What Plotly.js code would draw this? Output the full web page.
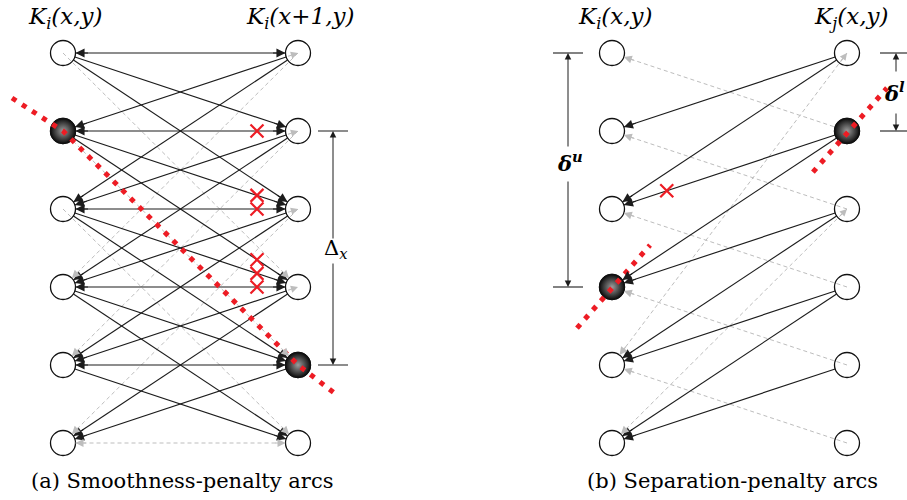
<!DOCTYPE html>
<html><head><meta charset="utf-8">
<script src="https://cdn.plot.ly/plotly-3.0.1.min.js"></script>
<style>html,body{margin:0;padding:0;background:#fff}#chart{width:907px;height:500px}</style>
</head><body><div id="chart"></div>
<script>
// ---------------- data ----------------
const levels = [0, 1, 2, 3, 4, 5];
const headersA = ['K<sub>i</sub>(x,y)', 'K<sub>i</sub>(x+1,y)'];
const headersB = ['K<sub>i</sub>(x,y)', 'K<sub>j</sub>(x,y)'];
const captionA = '(a) Smoothness-penalty arcs';
const captionB = '(b) Separation-penalty arcs';
// (a) smoothness-penalty arcs, both directions (L->R and R->L), from level -> to level
const smoothFrom = [0, 0, 1, 1, 2, 2, 3, 3, 4];
const smoothTo   = [1, 2, 2, 3, 3, 4, 4, 5, 5];
const smoothHoriz = [0, 1, 2, 3, 4];          // double-headed horizontal arcs
const hardFromA = [0, 1, 2];                  // gray hard arcs, level i -> level i+3 (both sides)
const hardToA   = [3, 4, 5];
const baseHorizA = [5];                       // gray base arc
const upHeadFromA = [1, 2, 3, 4];             // gray upward arcs L(i) -> R(i-1)
const upHeadToA   = [0, 1, 2, 3];
const cutNodesA = {col: [0, 1], lev: [1, 4]};
const cutPathAx = [-0.217, 0, 1, 1.166];
const cutPathAy = [0.577, 1, 4, 4.385];
const crossFromA = [1, 1, 2, 1, 2, 3];        // crossed arcs L(from) -> R(to)
const crossToA   = [1, 2, 2, 3, 3, 3];
const crossPosA = 0.8255;
// (b) separation-penalty arcs, from R level -> L level
const sepFrom = [0, 0, 1, 1, 2, 2, 3, 3, 4];
const sepTo   = [1, 2, 2, 3, 3, 4, 4, 5, 5];
const grayFromB = [1, 2, 3, 4, 5];            // R -> L gray dashed
const grayToB   = [0, 1, 2, 3, 4];
const steepRB = [0, 2];                       // gray double arcs R <-> L
const steepLB = [4, 5];
const cutNodesB = {col: [0, 1], lev: [3, 1]};
const cutPathBx = [0.855, 1.170, null, -0.149, 0.162];
const cutPathBy = [1.526, 0.449, null, 3.526, 2.462];
const crossFromB = [1], crossToB = [2], crossPosB = 0.233;
const deltaXLevels = [1, 4];
const deltaULevels = [0, 3];
const deltaLLevels = [0, 1];

// ---------------- geometry / style ----------------
const W = 907, H = 500, SX = 235, SY = 78, RN = 12.5;
const colPxA = 63, colPxB = 612, topPx = 53;
const BLACK = '#1c1c1c', GRAY = '#bdbdbd', RED = '#ed1c24';
const SERIF = 'DejaVu Serif';

function unitPx(x0, y0, x1, y1) {
  const dx = (x1 - x0) * SX, dy = (y1 - y0) * SY, L = Math.hypot(dx, dy);
  return [dx / L, dy / L];
}
function seg(x0, y0, x1, y1, r0, r1) {
  const [ux, uy] = unitPx(x0, y0, x1, y1);
  return [x0 + ux * r0 / SX, y0 + uy * r0 / SY, x1 - ux * r1 / SX, y1 - uy * r1 / SY];
}
const annotations = [], shapes = [];
function head(xref, xs, ys, xt, yt, color, standoff, tail, size) {
  const [ux, uy] = unitPx(xs, ys, xt, yt);
  annotations.push({
    xref: xref, yref: 'y', axref: xref, ayref: 'y', x: xt, y: yt,
    ax: xt - ux * (standoff + tail) / SX, ay: yt - uy * (standoff + tail) / SY,
    text: '', showarrow: true, arrowhead: 2, arrowsize: size || 1.65, arrowwidth: 1.1,
    arrowcolor: color, standoff: standoff
  });
}
function lineTrace(xaxis, color, dash, width) {
  return {type: 'scatter', mode: 'lines', xaxis: xaxis, yaxis: 'y', x: [], y: [],
    line: {color: color, width: width, dash: dash}, hoverinfo: 'skip', connectgaps: false};
}
const blackA = lineTrace('x', BLACK, 'solid', 1.15), blackB = lineTrace('x2', BLACK, 'solid', 1.15);
const grayA = lineTrace('x', GRAY, '4px,3px', 1), grayB = lineTrace('x2', GRAY, '4px,3px', 1);
function addLine(tr, s) { tr.x.push(s[0], s[2], null); tr.y.push(s[1], s[3], null); }

// ----- panel (a) -----
smoothFrom.forEach((f, k) => {
  const t = smoothTo[k];
  addLine(blackA, seg(0, f, 1, t, RN, RN)); head('x', 0, f, 1, t, BLACK, RN, 14);
  addLine(blackA, seg(1, f, 0, t, RN, RN)); head('x', 1, f, 0, t, BLACK, RN, 14);
});
smoothHoriz.forEach(l => {
  addLine(blackA, seg(0, l, 1, l, RN, RN));
  head('x', 0, l, 1, l, BLACK, RN, 14); head('x', 1, l, 0, l, BLACK, RN, 14);
});
hardFromA.forEach((f, k) => {
  const t = hardToA[k];
  addLine(grayA, seg(0, f, 1, t, 0, RN)); head('x', 0, f, 1, t, GRAY, RN, 12, 1.45);
  addLine(grayA, seg(1, f, 0, t, 0, RN)); head('x', 1, f, 0, t, GRAY, RN, 12, 1.45);
});
baseHorizA.forEach(l => {
  addLine(grayA, seg(0, l, 1, l, RN, RN));
  head('x', 0, l, 1, l, GRAY, RN, 12, 1.45); head('x', 1, l, 0, l, GRAY, RN, 12, 1.45);
});
upHeadFromA.forEach((f, k) => head('x', 0, f, 1, upHeadToA[k], GRAY, 0, 12, 1.3));

// ----- panel (b) -----
sepFrom.forEach((f, k) => {
  const t = sepTo[k];
  addLine(blackB, seg(1, f, 0, t, RN, RN)); head('x2', 1, f, 0, t, BLACK, RN, 14);
});
grayFromB.forEach((f, k) => {
  const t = grayToB[k];
  addLine(grayB, seg(1, f, 0, t, 0, RN)); head('x2', 1, f, 0, t, GRAY, RN, 12, 1.45);
});
steepRB.forEach((r, k) => {
  const l = steepLB[k];
  addLine(grayB, seg(1, r, 0, l, 0, RN));
  head('x2', 1, r, 0, l, GRAY, RN, 12, 1.45);
  head('x2', 0, l, 1, r, GRAY, 0, 12, 1.3);
});

// ----- nodes, cuts, crosses -----
function nodes(xaxis) {
  return {type: 'scatter', mode: 'markers', xaxis: xaxis, yaxis: 'y',
    x: levels.map(() => 0).concat(levels.map(() => 1)), y: levels.concat(levels),
    marker: {size: 25, color: '#ffffff', line: {color: '#111', width: 1.3}}, hoverinfo: 'skip'};
}
function darkNodes(xaxis, c) {
  return {type: 'scatter', mode: 'markers', xaxis: xaxis, yaxis: 'y', x: c.col, y: c.lev,
    marker: {size: 25, color: '#0d0d0d', gradient: {type: 'radial', color: '#9c9c9c'},
      line: {color: '#111', width: 1.3}}, hoverinfo: 'skip'};
}
function cut(xaxis, xs, ys) {
  return {type: 'scatter', mode: 'lines', xaxis: xaxis, yaxis: 'y', x: xs, y: ys,
    line: {color: RED, width: 5, dash: '5px,7px'}, hoverinfo: 'skip', connectgaps: false};
}
const crossA = {type: 'scatter', mode: 'markers', xaxis: 'x', yaxis: 'y',
  x: crossFromA.map(() => crossPosA),
  y: crossFromA.map((f, k) => f + crossPosA * (crossToA[k] - f)),
  marker: {symbol: 'x-thin', size: 13, color: RED, line: {color: RED, width: 2.2}}, hoverinfo: 'skip'};
const crossB = {type: 'scatter', mode: 'markers', xaxis: 'x2', yaxis: 'y',
  x: crossFromB.map(() => crossPosB),
  y: crossFromB.map((f, k) => crossToB[k] + crossPosB * (f - crossToB[k])),
  marker: {symbol: 'x-thin', size: 13, color: RED, line: {color: RED, width: 2.2}}, hoverinfo: 'skip'};

const data = [
  nodes('x'), nodes('x2'),
  grayA, grayB, blackA, blackB,
  darkNodes('x', cutNodesA), darkNodes('x2', cutNodesB),
  cut('x', cutPathAx, cutPathAy), cut('x2', cutPathBx, cutPathBy),
  crossA, crossB
];

// ----- dimension markers -----
function dim(xref, xPx, colPx, levs, tickL, tickR, labelPx, gapTop, gapBot, label, dxLabel) {
  const xd = (xPx - colPx) / SX;
  levs.forEach(l => shapes.push({type: 'line', xref: xref, yref: 'y',
    x0: (tickL - colPx) / SX, x1: (tickR - colPx) / SX, y0: l, y1: l, line: {color: BLACK, width: 1.1}}));
  const yTop = (labelPx - gapTop - topPx) / SY, yBot = (labelPx + gapBot - topPx) / SY;
  annotations.push({xref: xref, yref: 'y', axref: xref, ayref: 'y', x: xd, y: levs[0], ax: xd, ay: yTop,
    text: '', showarrow: true, arrowhead: 2, arrowsize: 1.3, arrowwidth: 1, arrowcolor: BLACK, standoff: 0});
  annotations.push({xref: xref, yref: 'y', axref: xref, ayref: 'y', x: xd, y: levs[1], ax: xd, ay: yBot,
    text: '', showarrow: true, arrowhead: 2, arrowsize: 1.3, arrowwidth: 1, arrowcolor: BLACK, standoff: 0});
  annotations.push({xref: 'paper', yref: 'paper', x: (xPx + dxLabel) / W, y: 1 - labelPx / H,
    text: label, showarrow: false, xanchor: 'center', yanchor: 'middle',
    font: {family: SERIF, size: 21, color: '#000'}});
}
dim('x', 333, colPxA, deltaXLevels, 318, 348, 249, 9, 13, 'Δ<sub><i>x</i></sub>', 3);
dim('x2', 568, colPxB, deltaULevels, 553, 583, 162, 14, 18, '<b><i>δ</i></b><sup><b><i>u</i></b></sup>', 2);
dim('x2', 896, colPxB, deltaLLevels, 880, 907, 92, 19, 20, '<b><i>δ</i></b><sup><b><i>l</i></b></sup>', -2);

// ----- texts -----
const headFont = {family: SERIF, size: 23, color: '#000', style: 'italic'};
headersA.forEach((t, c) => annotations.push({xref: 'x', yref: 'paper', x: c + 0.01, y: 1 - 18 / H, text: t,
  showarrow: false, xanchor: 'center', yanchor: 'middle', font: headFont}));
headersB.forEach((t, c) => annotations.push({xref: 'x2', yref: 'paper', x: c + 0.015, y: 1 - 18 / H, text: t,
  showarrow: false, xanchor: 'center', yanchor: 'middle', font: headFont}));
const capFont = {family: SERIF, size: 21, color: '#000'};
annotations.push({xref: 'paper', yref: 'paper', x: 182 / W, y: 1 - 481 / H, text: captionA,
  showarrow: false, xanchor: 'center', yanchor: 'middle', font: capFont});
annotations.push({xref: 'paper', yref: 'paper', x: 732 / W, y: 1 - 481 / H, text: captionB,
  showarrow: false, xanchor: 'center', yanchor: 'middle', font: capFont});

const layout = {
  width: W, height: H, margin: {l: 0, r: 0, t: 0, b: 0},
  paper_bgcolor: '#ffffff', plot_bgcolor: 'rgba(0,0,0,0)', showlegend: false,
  font: {family: SERIF},
  xaxis: {domain: [0, 0.5], range: [-colPxA / SX, (W / 2 - colPxA) / SX], visible: false, fixedrange: true},
  xaxis2: {domain: [0.5, 1], range: [-(colPxB - W / 2) / SX, (W - colPxB) / SX], visible: false, anchor: 'y', fixedrange: true},
  yaxis: {domain: [0, 1], range: [(H - topPx) / SY, -topPx / SY], visible: false, fixedrange: true},
  annotations: annotations, shapes: shapes
};
Plotly.newPlot('chart', data, layout, {staticPlot: true, displayModeBar: false});
</script></body></html>
